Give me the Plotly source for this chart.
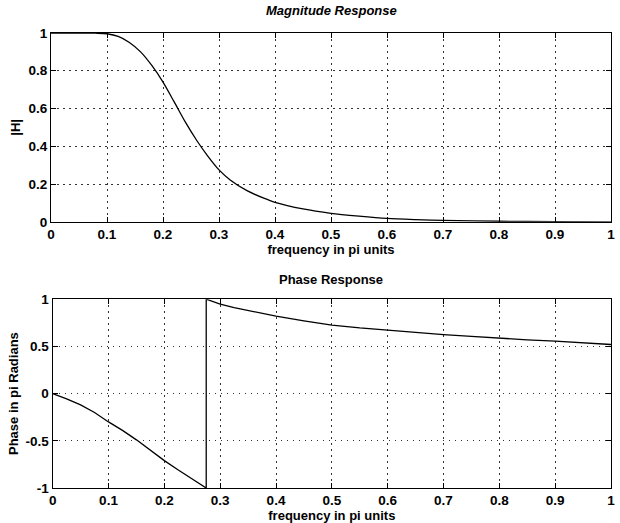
import plotly.graph_objects as go
from plotly.subplots import make_subplots

# Magnitude response samples (frequency in pi units, |H|)
mag_freq = [0.0, 0.05, 0.08, 0.1, 0.12, 0.14, 0.16, 0.18, 0.2, 0.22, 0.24, 0.26, 0.28,
            0.3, 0.32, 0.35, 0.38, 0.4, 0.45, 0.5, 0.55, 0.6, 0.65, 0.7, 0.8, 0.9, 1.0]
mag_vals = [1.0, 1.0, 0.999, 0.996, 0.982, 0.95, 0.9, 0.828, 0.74, 0.635, 0.528, 0.432, 0.348,
            0.275, 0.222, 0.165, 0.125, 0.103, 0.068, 0.045, 0.03, 0.018, 0.012, 0.008, 0.003, 0.001, 0.0]

# Phase response samples (frequency in pi units, phase in pi radians)
ph_freq = [0.0, 0.025, 0.05, 0.075, 0.1, 0.125, 0.15, 0.175, 0.2, 0.225, 0.25, 0.26, 0.268, 0.275,
           0.275, 0.288, 0.3, 0.325, 0.35, 0.375, 0.4, 0.45, 0.5, 0.55, 0.6, 0.65, 0.7,
           0.75, 0.8, 0.85, 0.9, 0.95, 1.0]
ph_vals = [0.0, -0.055, -0.12, -0.20, -0.30, -0.39, -0.49, -0.60, -0.71, -0.81, -0.905, -0.945, -0.975, -1.0,
           1.0, 0.972, 0.948, 0.91, 0.878, 0.848, 0.82, 0.77, 0.725, 0.695, 0.67, 0.647, 0.625,
           0.605, 0.585, 0.57, 0.555, 0.537, 0.52]

x_ticks = [0, 0.1, 0.2, 0.3, 0.4, 0.5, 0.6, 0.7, 0.8, 0.9, 1]
x_labels = ["0", "0.1", "0.2", "0.3", "0.4", "0.5", "0.6", "0.7", "0.8", "0.9", "1"]
mag_ticks = [0, 0.2, 0.4, 0.6, 0.8, 1]
mag_labels = ["0", "0.2", "0.4", "0.6", "0.8", "1"]
ph_ticks = [-1, -0.5, 0, 0.5, 1]
ph_labels = ["-1", "-0.5", "0", "0.5", "1"]

FONT = "Liberation Sans, Arial, sans-serif"
LABEL_FONT = dict(family=FONT, size=13, color="black", weight="bold")

fig = make_subplots(rows=2, cols=1, vertical_spacing=0.17)
fig.add_trace(go.Scatter(x=mag_freq, y=mag_vals, mode="lines",
                         line=dict(color="black", width=1.3, shape="spline", smoothing=0.8),
                         showlegend=False), row=1, col=1)
fig.add_trace(go.Scatter(x=ph_freq, y=ph_vals, mode="lines",
                         line=dict(color="black", width=1.3),
                         showlegend=False), row=2, col=1)

axis_common = dict(
    showline=True, linecolor="black", linewidth=1.2, mirror="allticks",
    ticks="inside", ticklen=5, tickcolor="black",
    showgrid=True, gridcolor="#333333", griddash="1.5px,4.5px", gridwidth=1,
    zeroline=False,
    tickfont=dict(family=FONT, size=13.5, color="black", weight="bold"),
)

for r in (1, 2):
    fig.update_xaxes(range=[0, 1], tickvals=x_ticks, ticktext=x_labels,
                     title=dict(text="frequency in pi units", standoff=0, font=LABEL_FONT),
                     **axis_common, row=r, col=1)

fig.update_yaxes(range=[0, 1], tickvals=mag_ticks, ticktext=mag_labels,
                 title=dict(text="|H|", standoff=4, font=LABEL_FONT),
                 **axis_common, row=1, col=1)
fig.update_yaxes(range=[-1, 1], tickvals=ph_ticks, ticktext=ph_labels,
                 title=dict(text="Phase in pi Radians", standoff=4, font=LABEL_FONT),
                 **axis_common, row=2, col=1)

fig.update_layout(
    width=620, height=523,
    margin=dict(l=51, r=5, t=33, b=35),
    paper_bgcolor="white", plot_bgcolor="white",
    xaxis=dict(domain=[0, 1]), yaxis=dict(domain=[0.585, 1.0]),
    xaxis2=dict(domain=[0.003, 1]), yaxis2=dict(domain=[0.0, 0.415]),
    annotations=[
        dict(text="<i>Magnitude Response</i>", x=0.5, xref="paper", y=1.0, yref="paper",
             yshift=13, showarrow=False, xanchor="center", yanchor="bottom",
             font=LABEL_FONT),
        dict(text="Phase Response", x=0.5, xref="paper", y=0.415, yref="paper",
             yshift=10, showarrow=False, xanchor="center", yanchor="bottom",
             font=LABEL_FONT),
    ],
)

fig.write_html("out.html")
